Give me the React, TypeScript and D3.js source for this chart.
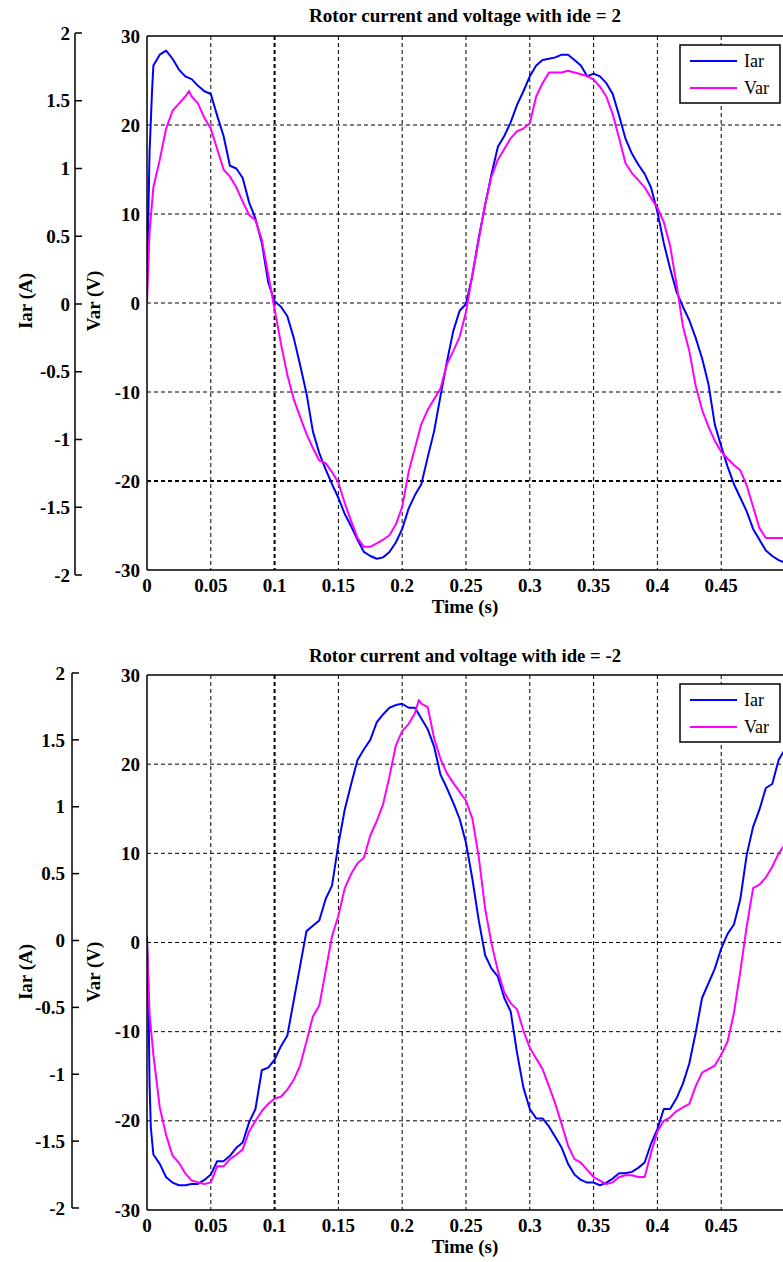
import React from "react";
import * as d3 from "d3";

// ---------- data ----------
const TITLES = [
  "Rotor current and voltage with ide = 2",
  "Rotor current and voltage with ide = -2",
];
const SERIES_NAMES = ["Iar", "Var"];
const X_LABEL = "Time (s)";
const Y_LEFT_LABEL = "Iar (A)";
const Y_RIGHT_LABEL = "Var (V)";

const TIME_TICKS = [0, 0.05, 0.1, 0.15, 0.2, 0.25, 0.3, 0.35, 0.4, 0.45];
const TIME_TICK_LABELS = ["0", "0.05", "0.1", "0.15", "0.2", "0.25", "0.3", "0.35", "0.4", "0.45"];
const TIME_GRID = [0.05, 0.1, 0.15, 0.2, 0.25, 0.3, 0.35, 0.4, 0.45, 0.5];
const VAR_TICKS = [30, 20, 10, 0, -10, -20, -30];
const VAR_GRID = [20, 10, 0, -10, -20];
const IAR_TICKS = [2, 1.5, 1, 0.5, 0, -0.5, -1, -1.5, -2];
const IAR_TICK_LABELS = ["2", "1.5", "1", "0.5", "0", "-0.5", "-1", "-1.5", "-2"];

// ide = 2 : rotor current (A)
const IAR_IDE_POS: [number, number][] = [
  [0, 0.13], [0.002, 1.12], [0.004, 1.58], [0.005, 1.76], [0.01, 1.84], [0.015, 1.87], [0.02, 1.81],
  [0.025, 1.73], [0.03, 1.68], [0.035, 1.66], [0.04, 1.61], [0.045, 1.57], [0.05, 1.55], [0.055, 1.39],
  [0.06, 1.24], [0.065, 1.02], [0.07, 1.0], [0.075, 0.93], [0.08, 0.75], [0.085, 0.63], [0.09, 0.45],
  [0.095, 0.16], [0.1, 0.02], [0.105, -0.02], [0.11, -0.09], [0.115, -0.25], [0.12, -0.45], [0.125, -0.66],
  [0.13, -0.94], [0.135, -1.1], [0.14, -1.22], [0.145, -1.33], [0.15, -1.43], [0.155, -1.55], [0.16, -1.64],
  [0.165, -1.74], [0.17, -1.83], [0.175, -1.86], [0.18, -1.88], [0.185, -1.87], [0.19, -1.83], [0.195, -1.76],
  [0.2, -1.66], [0.205, -1.51], [0.21, -1.41], [0.215, -1.33], [0.22, -1.13], [0.225, -0.94], [0.23, -0.68],
  [0.235, -0.43], [0.24, -0.2], [0.245, -0.05], [0.25, 0], [0.255, 0.21], [0.26, 0.49], [0.265, 0.73],
  [0.27, 0.96], [0.275, 1.16], [0.28, 1.24], [0.285, 1.34], [0.29, 1.47], [0.295, 1.57], [0.3, 1.68],
  [0.305, 1.76], [0.31, 1.8], [0.315, 1.81], [0.32, 1.82], [0.325, 1.84], [0.33, 1.84], [0.335, 1.8],
  [0.34, 1.76], [0.345, 1.68], [0.35, 1.7], [0.355, 1.68], [0.36, 1.63], [0.365, 1.55], [0.37, 1.39],
  [0.375, 1.22], [0.38, 1.11], [0.385, 1.03], [0.39, 0.96], [0.395, 0.86], [0.4, 0.68], [0.405, 0.45],
  [0.41, 0.26], [0.415, 0.09], [0.42, -0.02], [0.425, -0.12], [0.43, -0.25], [0.435, -0.4], [0.44, -0.59],
  [0.445, -0.89], [0.45, -1.05], [0.455, -1.2], [0.46, -1.33], [0.465, -1.43], [0.47, -1.53], [0.475, -1.66],
  [0.48, -1.74], [0.485, -1.82], [0.49, -1.86], [0.495, -1.89], [0.5, -1.91],
];

// ide = 2 : rotor voltage (V)
const VAR_IDE_POS: [number, number][] = [
  [0, 0], [0.002, 8], [0.005, 13], [0.01, 16.1], [0.015, 19.6], [0.02, 21.6], [0.025, 22.4], [0.03, 23.2],
  [0.033, 23.8], [0.035, 23.2], [0.04, 22.4], [0.045, 20.8], [0.05, 19.6], [0.055, 17.3], [0.06, 15.0],
  [0.065, 14.2], [0.07, 13.0], [0.075, 11.4], [0.08, 9.9], [0.085, 9.3], [0.09, 7.1], [0.095, 3.2],
  [0.1, -0.7], [0.105, -4.6], [0.11, -8.1], [0.115, -10.8], [0.12, -12.8], [0.125, -14.7], [0.13, -16.3],
  [0.135, -17.7], [0.14, -18.0], [0.145, -19.0], [0.15, -20.2], [0.155, -22.5], [0.16, -24.5], [0.165, -26.4],
  [0.17, -27.4], [0.175, -27.4], [0.18, -27.0], [0.185, -26.6], [0.19, -26.1], [0.195, -24.9], [0.2, -22.9],
  [0.205, -19.0], [0.21, -16.3], [0.215, -13.6], [0.22, -12.0], [0.225, -10.8], [0.23, -9.6], [0.235, -6.9],
  [0.24, -5.4], [0.245, -3.8], [0.25, -1.0], [0.255, 3.2], [0.26, 7.1], [0.265, 11.1], [0.27, 14.2],
  [0.275, 16.1], [0.28, 17.3], [0.285, 18.5], [0.29, 19.3], [0.295, 19.6], [0.3, 20.2], [0.305, 23.2],
  [0.31, 24.7], [0.315, 25.9], [0.32, 25.9], [0.325, 25.9], [0.33, 26.1], [0.335, 25.9], [0.34, 25.7],
  [0.345, 25.5], [0.35, 25.1], [0.355, 24.3], [0.36, 23.2], [0.365, 21.2], [0.37, 18.5], [0.375, 15.7],
  [0.38, 14.6], [0.385, 13.8], [0.39, 13.0], [0.395, 11.8], [0.4, 10.7], [0.405, 9.1], [0.41, 6.4],
  [0.415, 2.1], [0.42, -2.6], [0.425, -5.4], [0.43, -9.3], [0.435, -12.0], [0.44, -13.9], [0.445, -15.5],
  [0.45, -16.7], [0.455, -17.5], [0.46, -18.2], [0.465, -18.8], [0.47, -20.5], [0.475, -22.9], [0.48, -25.3],
  [0.485, -26.4], [0.49, -26.4], [0.495, -26.4], [0.5, -26.4],
];

// ide = -2 : rotor current (A)
const IAR_IDE_NEG: [number, number][] = [
  [0, 0.03], [0.001, -0.33], [0.002, -1.07], [0.003, -1.4], [0.005, -1.6], [0.01, -1.67], [0.015, -1.77],
  [0.02, -1.81], [0.025, -1.83], [0.03, -1.83], [0.035, -1.82], [0.04, -1.82], [0.045, -1.79], [0.05, -1.75],
  [0.055, -1.65], [0.06, -1.65], [0.065, -1.61], [0.07, -1.55], [0.075, -1.51], [0.08, -1.36], [0.085, -1.26],
  [0.09, -0.97], [0.095, -0.95], [0.1, -0.89], [0.105, -0.79], [0.11, -0.71], [0.115, -0.45], [0.12, -0.19],
  [0.125, 0.07], [0.13, 0.11], [0.135, 0.15], [0.14, 0.31], [0.145, 0.41], [0.15, 0.72], [0.155, 0.98],
  [0.16, 1.17], [0.165, 1.35], [0.17, 1.43], [0.175, 1.5], [0.18, 1.63], [0.185, 1.69], [0.19, 1.74],
  [0.195, 1.76], [0.2, 1.77], [0.205, 1.74], [0.21, 1.74], [0.215, 1.66], [0.22, 1.58], [0.225, 1.45],
  [0.23, 1.24], [0.235, 1.14], [0.24, 1.03], [0.245, 0.91], [0.25, 0.73], [0.255, 0.46], [0.26, 0.15],
  [0.265, -0.11], [0.27, -0.21], [0.275, -0.27], [0.28, -0.43], [0.285, -0.53], [0.29, -0.84], [0.295, -1.1],
  [0.3, -1.26], [0.305, -1.33], [0.31, -1.33], [0.315, -1.39], [0.32, -1.47], [0.325, -1.55], [0.33, -1.67],
  [0.335, -1.75], [0.34, -1.79], [0.345, -1.81], [0.35, -1.81], [0.355, -1.83], [0.36, -1.81], [0.365, -1.78],
  [0.37, -1.74], [0.375, -1.74], [0.38, -1.73], [0.385, -1.7], [0.39, -1.66], [0.395, -1.52], [0.4, -1.41],
  [0.405, -1.26], [0.41, -1.26], [0.415, -1.18], [0.42, -1.07], [0.425, -0.92], [0.43, -0.69], [0.435, -0.43],
  [0.44, -0.32], [0.445, -0.21], [0.45, -0.06], [0.455, 0.05], [0.46, 0.12], [0.465, 0.31], [0.47, 0.64],
  [0.475, 0.85], [0.48, 0.98], [0.485, 1.14], [0.49, 1.17], [0.495, 1.35], [0.5, 1.43],
];

// ide = -2 : rotor voltage (V)
const VAR_IDE_NEG: [number, number][] = [
  [0, 0], [0.002, -8], [0.005, -12.6], [0.01, -18.5], [0.015, -21.6], [0.02, -23.9], [0.025, -24.7],
  [0.03, -25.9], [0.035, -26.7], [0.04, -26.9], [0.045, -27.1], [0.05, -26.9], [0.055, -25.1], [0.06, -25.1],
  [0.065, -24.3], [0.07, -23.8], [0.075, -23.2], [0.08, -21.2], [0.085, -20.0], [0.09, -18.9], [0.095, -18.1],
  [0.1, -17.5], [0.105, -17.3], [0.11, -16.5], [0.115, -15.4], [0.12, -13.8], [0.125, -11.1], [0.13, -8.3],
  [0.135, -7.1], [0.14, -3.2], [0.145, 0.7], [0.15, 3.0], [0.155, 6.1], [0.16, 7.7], [0.165, 8.9],
  [0.17, 9.5], [0.175, 12.0], [0.18, 13.6], [0.185, 15.5], [0.19, 18.6], [0.195, 22.1], [0.2, 23.7],
  [0.205, 24.5], [0.21, 25.7], [0.213, 27.2], [0.215, 26.8], [0.22, 26.4], [0.225, 22.9], [0.23, 20.6],
  [0.235, 19.0], [0.24, 17.9], [0.245, 16.9], [0.25, 15.9], [0.255, 13.9], [0.26, 9.6], [0.265, 3.8],
  [0.27, -0.1], [0.275, -3.2], [0.28, -5.6], [0.285, -6.8], [0.29, -7.5], [0.295, -9.9], [0.3, -11.8],
  [0.305, -13.0], [0.31, -14.2], [0.315, -16.1], [0.32, -18.1], [0.325, -20.4], [0.33, -22.8], [0.335, -24.3],
  [0.34, -24.7], [0.345, -25.5], [0.35, -26.3], [0.355, -26.7], [0.36, -27.1], [0.365, -26.9], [0.37, -26.3],
  [0.375, -26.1], [0.38, -26.1], [0.385, -26.3], [0.39, -26.3], [0.395, -23.6], [0.4, -21.2], [0.405, -20.0],
  [0.41, -19.6], [0.415, -18.9], [0.42, -18.5], [0.425, -18.1], [0.43, -16.1], [0.435, -14.6], [0.44, -14.2],
  [0.445, -13.8], [0.45, -12.6], [0.455, -11.1], [0.46, -7.9], [0.465, -3.2], [0.47, 1.8], [0.475, 6.1],
  [0.48, 6.5], [0.485, 7.3], [0.49, 8.5], [0.495, 10.0], [0.5, 11.0],
];

// ---------- drawing ----------
const FONT = "'Liberation Serif', 'Times New Roman', serif";
const BLUE = "#0000ff";
const MAGENTA = "#ff00ff";

type PanelProps = {
  id: string;
  title: string;
  iar: [number, number][];
  vr: [number, number][];
  top: number;
  bottom: number;
  titleY: number;
  leftAxisX: number;
  leftTop: number;
  leftBottom: number;
  leftLabelX: number;
  yLabelCenter: number;
  thickH: number[];
};

function Panel(p: PanelProps) {
  const left = 147;
  const right = 785;
  const x = d3.scaleLinear().domain([0, 0.5]).range([left, right]);
  const yV = d3.scaleLinear().domain([-30, 30]).range([p.bottom, p.top]);
  const yA = d3.scaleLinear().domain([-2, 2]).range([p.leftBottom, p.leftTop]);
  const lineA = d3.line<[number, number]>().x((d) => x(d[0])).y((d) => yA(d[1]));
  const lineV = d3.line<[number, number]>().x((d) => x(d[0])).y((d) => yV(d[1]));
  const clipId = `clip-${p.id}`;
  const legX = 680;
  const legY = p.top + 9;

  return (
    <g>
      <defs>
        <clipPath id={clipId}>
          <rect x={left} y={p.top} width={right - left} height={p.bottom - p.top} />
        </clipPath>
      </defs>
      {/* grid */}
      {TIME_GRID.map((t) => (
        <line key={"vg" + t} x1={x(t)} x2={x(t)} y1={p.top} y2={p.bottom}
          stroke="#000" strokeWidth={t === 0.1 ? 2 : 1} strokeDasharray="4,3" />
      ))}
      {VAR_GRID.map((v) => (
        <line key={"hg" + v} x1={left} x2={right} y1={yV(v)} y2={yV(v)}
          stroke="#000" strokeWidth={p.thickH.includes(v) ? 2 : 1} strokeDasharray="4,3" />
      ))}
      {/* data */}
      <g clipPath={`url(#${clipId})`}>
        <path d={lineA(p.iar) || ""} fill="none" stroke={BLUE} strokeWidth={2} strokeLinejoin="round" />
        <path d={lineV(p.vr) || ""} fill="none" stroke={MAGENTA} strokeWidth={2} strokeLinejoin="round" />
      </g>
      {/* box */}
      <line x1={left} x2={right} y1={p.top} y2={p.top} stroke="#000" strokeWidth={1.5} />
      <line x1={left} x2={right} y1={p.bottom} y2={p.bottom} stroke="#000" strokeWidth={1.5} />
      <line x1={left} x2={left} y1={p.top} y2={p.bottom} stroke="#000" strokeWidth={1.5} />
      {/* title */}
      <text x={465} y={p.titleY} textAnchor="middle" fontFamily={FONT} fontWeight="bold" fontSize={19}
        textLength={312} lengthAdjust="spacingAndGlyphs">{p.title}</text>
      {/* x ticks */}
      {TIME_TICKS.map((t, i) => (
        <text key={"xt" + t} x={x(t)} y={p.bottom + 22} textAnchor="middle" fontFamily={FONT}
          fontWeight="bold" fontSize={19}>{TIME_TICK_LABELS[i]}</text>
      ))}
      <text x={465} y={p.bottom + 43} textAnchor="middle" fontFamily={FONT} fontWeight="bold" fontSize={19}>{X_LABEL}</text>
      {/* right (Var) ticks */}
      {VAR_TICKS.map((v) => (
        <text key={"vt" + v} x={140} y={yV(v)} dy="0.35em" textAnchor="end" fontFamily={FONT}
          fontWeight="bold" fontSize={19}>{v}</text>
      ))}
      <text transform={`translate(100,${p.yLabelCenter}) rotate(-90)`} textAnchor="middle" fontFamily={FONT}
        fontWeight="bold" fontSize={19}>{Y_RIGHT_LABEL}</text>
      {/* left (Iar) axis */}
      <line x1={p.leftAxisX} x2={p.leftAxisX} y1={p.leftTop} y2={p.leftBottom} stroke="#000" strokeWidth={1.5} />
      {IAR_TICKS.map((a, i) => (
        <g key={"at" + a}>
          <line x1={p.leftAxisX} x2={p.leftAxisX + 7} y1={yA(a)} y2={yA(a)} stroke="#000" strokeWidth={1.5} />
          <text x={p.leftLabelX} y={yA(a)} dy="0.35em" textAnchor="end" fontFamily={FONT}
            fontWeight="bold" fontSize={19}>{IAR_TICK_LABELS[i]}</text>
        </g>
      ))}
      <text transform={`translate(32,${p.yLabelCenter}) rotate(-90)`} textAnchor="middle" fontFamily={FONT}
        fontWeight="bold" fontSize={19}>{Y_LEFT_LABEL}</text>
      {/* legend */}
      <rect x={legX} y={legY} width={100} height={58} fill="#fff" stroke="#000" strokeWidth={1.5} />
      {[BLUE, MAGENTA].map((c, i) => (
        <g key={"lg" + i}>
          <line x1={legX + 10} x2={legX + 57} y1={legY + 16 + i * 27} y2={legY + 16 + i * 27} stroke={c} strokeWidth={2} />
          <text x={legX + 64} y={legY + 16 + i * 27} dy="0.35em" fontFamily={FONT} fontSize={18}>{SERIES_NAMES[i]}</text>
        </g>
      ))}
    </g>
  );
}

export default function App() {
  return (
    <svg width={783} height={1262} style={{ position: "absolute", left: 0, top: 0, background: "#fff" }}>
      <rect x={0} y={0} width={783} height={1262} fill="#fff" />
      <Panel id="a" title={TITLES[0]} iar={IAR_IDE_POS} vr={VAR_IDE_POS} top={36} bottom={570} titleY={22}
        leftAxisX={75} leftTop={33} leftBottom={575} leftLabelX={70} yLabelCenter={301} thickH={[-20]} />
      <Panel id="b" title={TITLES[1]} iar={IAR_IDE_NEG} vr={VAR_IDE_NEG} top={675} bottom={1210} titleY={662}
        leftAxisX={72} leftTop={673} leftBottom={1208} leftLabelX={65} yLabelCenter={972} thickH={[]} />
    </svg>
  );
}
